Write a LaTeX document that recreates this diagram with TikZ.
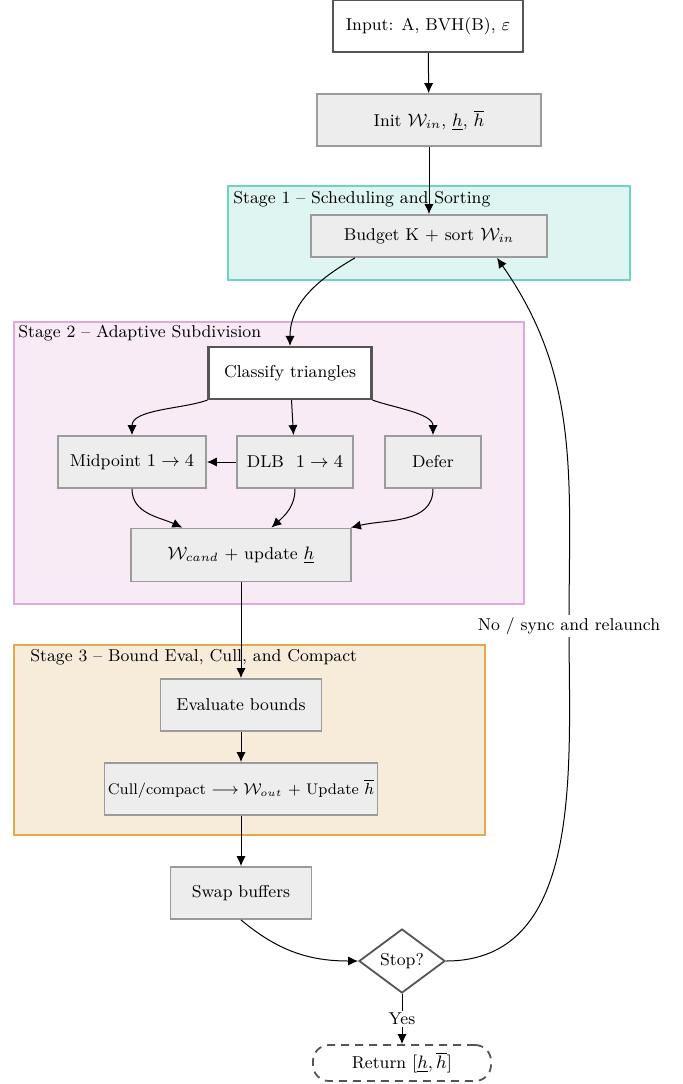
\documentclass[tikz,border=0pt]{standalone}
\usepackage{amsmath}
\usetikzlibrary{arrows.meta}
\usetikzlibrary{calc}
\usetikzlibrary{positioning}
\usetikzlibrary{shapes.geometric}
\definecolor{procfill}{HTML}{EDEDED}
\definecolor{procline}{HTML}{9B9B9B}
\definecolor{darkline}{HTML}{555555}
\definecolor{tealfill}{HTML}{DFF5F1}
\definecolor{tealline}{HTML}{6DD3C3}
\definecolor{pinkfill}{HTML}{F8EBF5}
\definecolor{pinkline}{HTML}{DFAADB}
\definecolor{orangefill}{HTML}{F7EBDA}
\definecolor{orangeline}{HTML}{E3A94A}
\tikzstyle{procnode} = [draw=procline, fill=procfill, line width=0.9pt, minimum height=26pt, inner sep=0pt]
\tikzstyle{ionode} = [draw=darkline, fill=white, line width=1.1pt, minimum height=26pt, inner sep=0pt]
\tikzstyle{stopnode} = [draw=darkline, fill=white, line width=0.9pt, diamond, aspect=1.35, minimum width=43pt, minimum height=32pt, inner sep=1pt]
\tikzstyle{retnode} = [draw=darkline, dash pattern=on 4pt off 3pt, line width=0.9pt, rounded corners=8pt, minimum width=89pt, minimum height=18pt, inner sep=0pt]
\tikzstyle{stagebox} = [line width=0.9pt]
\tikzstyle{stagelabel} = [anchor=west, inner sep=0pt]
\tikzstyle{flow} = [-{Latex[length=5pt,width=4.6pt]}, line width=0.5pt]

\begin{document}
\begin{tikzpicture}[x=0.5pt, y=-0.5pt, font=\fontsize{8.6}{10.5}\selectfont]
  \useasboundingbox (0,0) rectangle (683,1084);

  % stage frames
  \draw[stagebox, draw=tealline, fill=tealfill] (228,186) rectangle (630,280);
  \draw[stagebox, draw=pinkline, fill=pinkfill] (14,322) rectangle (524,604);
  \draw[stagebox, draw=orangeline, fill=orangefill] (14,645) rectangle (485,835);
  \node[stagelabel] (s1) at (233,199) {Stage 1 -- Scheduling and Sorting};
  \node[stagelabel] (s2) at (18,333) {Stage 2 -- Adaptive Subdivision};
  \node[stagelabel] (s3) at (30,657) {Stage 3 -- Bound Eval, Cull, and Compact};

  \node[ionode, minimum width=95pt] (inp) at (428,26) {Input: A, BVH(B), $\varepsilon$};
  \node[procnode, minimum width=112pt] (init) at (429,120) {Init $\mathcal{W}_{in}$, $\underline{h}$, $\overline{h}$};
  \node[procnode, minimum width=118pt, minimum height=21pt] (budget) at (429,236) {Budget K + sort $\mathcal{W}_{in}$};

  \node[ionode, minimum width=81.5pt] (classify) at (290,373) {Classify triangles};
  \node[procnode, minimum width=74pt] (mid) at (132,462) {Midpoint $1\rightarrow 4$};
  \node[procnode, minimum width=58pt] (dlb) at (295,462) {DLB\ \ $1\rightarrow 4$};
  \node[procnode, minimum width=48pt] (defer) at (433,462) {Defer};
  \node[procnode, minimum width=110pt, minimum height=26.5pt] (cand) at (241,555) {$\mathcal{W}_{cand}$ + update $\underline{h}$};

  \node[procnode, minimum width=80.5pt] (eval) at (241,705) {Evaluate bounds};
  \node[procnode, minimum width=136.5pt] (cull) at (241,789) {\fontsize{7.7}{9.5}\selectfont Cull/compact $\longrightarrow \mathcal{W}_{out}$ + Update $\overline{h}$};

  \node[procnode, minimum width=70.5pt] (swap) at (241,893) {Swap buffers};
  \node[stopnode] (stop) at (402,961) {Stop?};
  \node[retnode] (ret) at (402,1063) {Return $[\underline{h}, \overline{h}]$};

  \draw[flow] (inp) -- (init);
  \draw[flow] (init) -- (budget);
  \draw[flow] ([xshift=-37pt]budget.south) to[out=-150,in=90] (classify.north);
  \draw[flow] (classify.south west) to[out=-160,in=90,looseness=0.8] (mid.north);
  \draw[flow] (classify) -- (dlb);
  \draw[flow] (classify.south east) to[out=-20,in=90,looseness=0.8] (defer.north);
  \draw[flow] (dlb) -- (mid);
  \draw[flow] (mid) to[out=-90,in=155] (cand);
  \draw[flow] (dlb) to[out=-90,in=42] (cand);
  \draw[flow] (defer) to[out=-90,in=14] (cand);
  \draw[flow] (cand) -- (eval);
  \draw[flow] (eval) -- (cull);
  \draw[flow] (cull) -- (swap);
  \draw[flow] (swap.south) to[out=-40,in=180] (stop.west);
  \draw[flow] (stop) -- node[fill=white, inner sep=1pt] (yes) {Yes} (ret);

  % loop back
  \coordinate (bend) at (569,626);
  \draw[flow] (stop.east) to[out=0,in=-90] (bend) to[out=90,in=-55] ([xshift=34pt]budget.south);
  \node[fill=white, inner sep=1pt] (nolbl) at (bend) {No / sync and relaunch};
\end{tikzpicture}
\end{document}
